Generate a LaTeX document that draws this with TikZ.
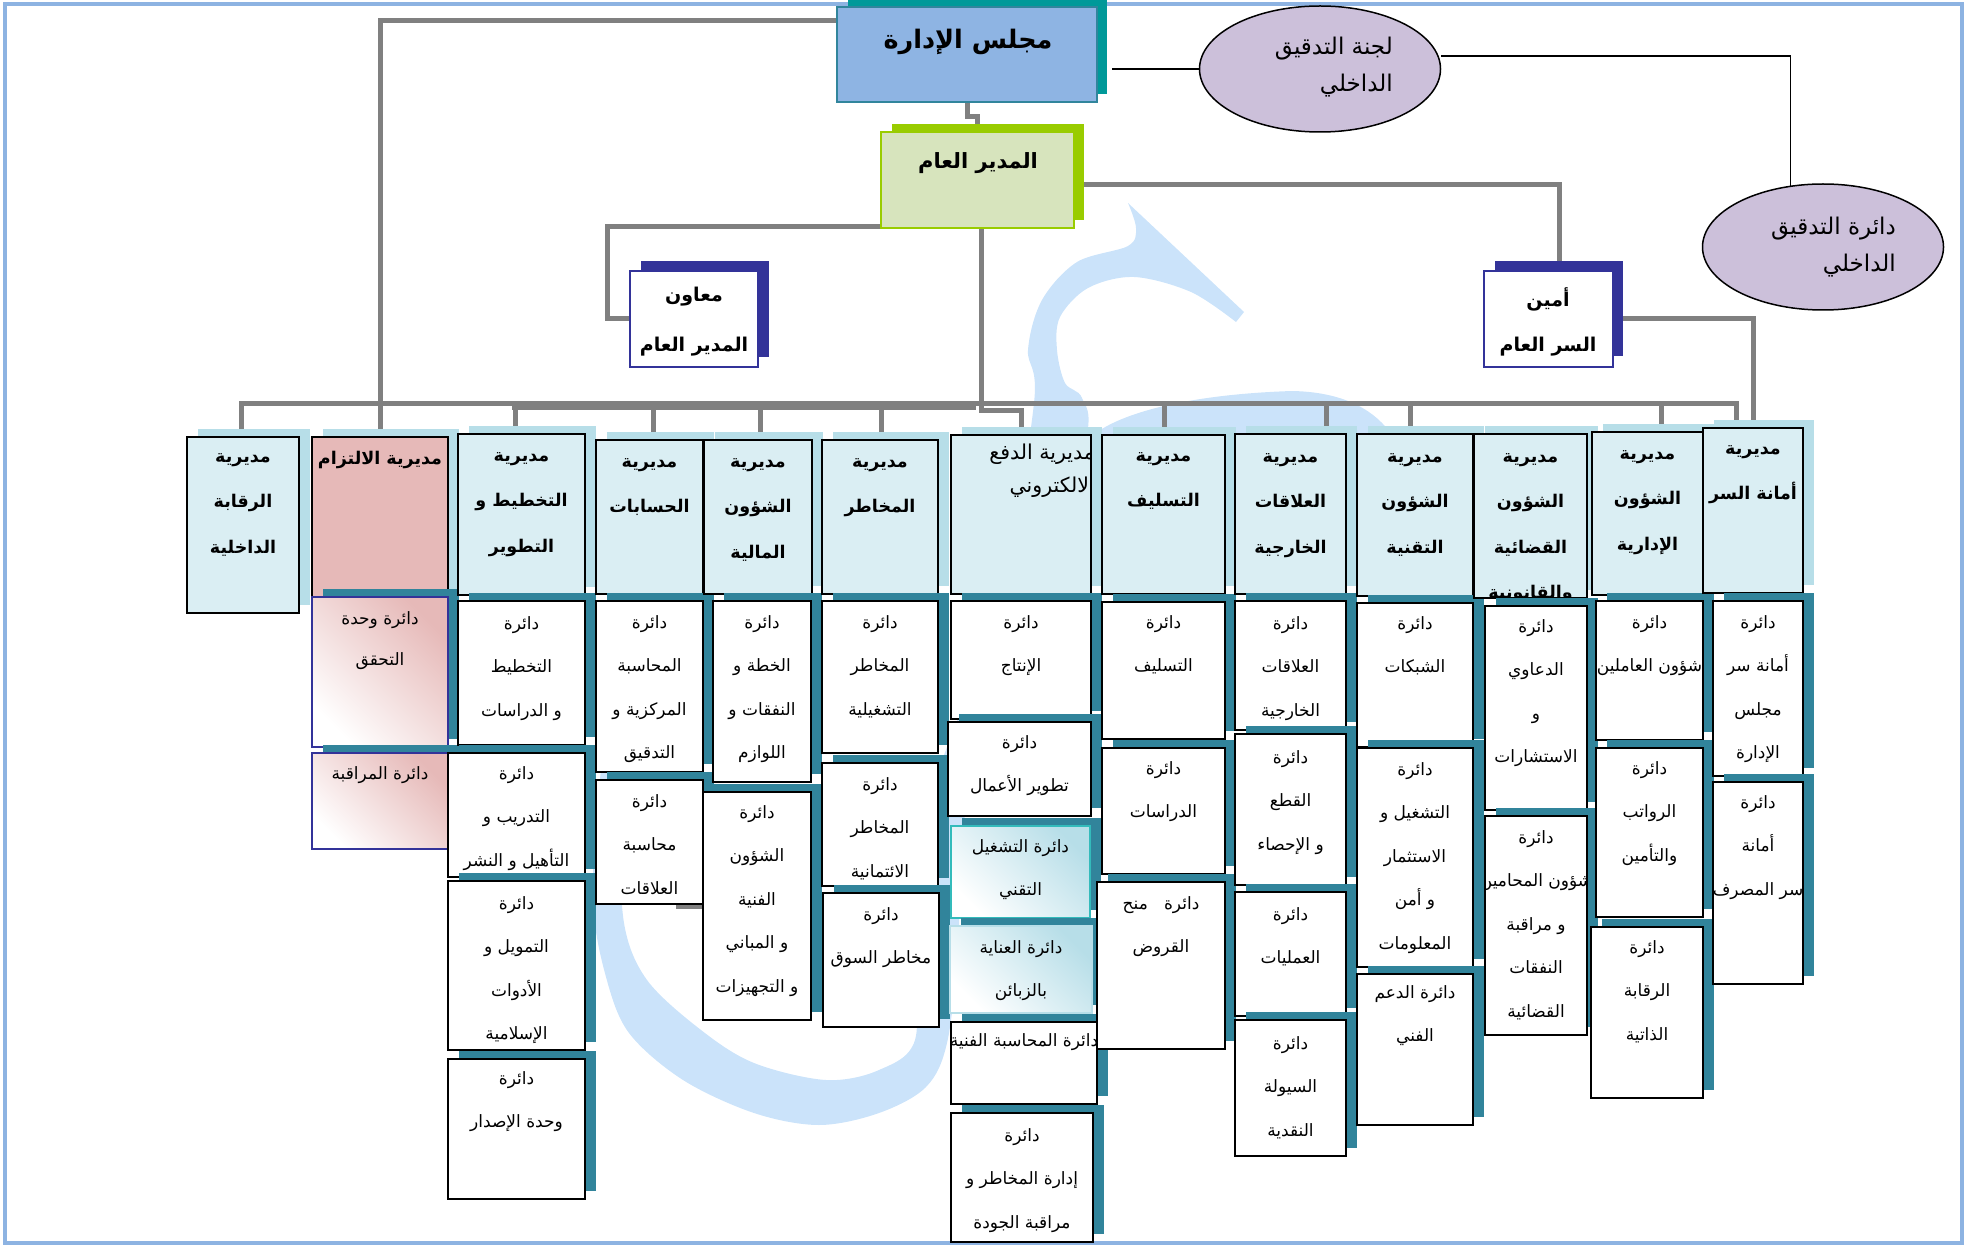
\documentclass[tikz,border=0pt]{standalone}
\usepackage{fontspec}
\usetikzlibrary{shapes.geometric}
\TeXXeTstate=1
\newfontfamily\arabicfont[Script=Arabic]{DejaVu Sans}
\newcommand\AR[1]{{\arabicfont #1}}
\definecolor{gline}{HTML}{808080}
\definecolor{framec}{HTML}{8DB3E2}
\definecolor{wmc}{HTML}{CBE3FA}
\definecolor{boardf}{HTML}{8EB4E3}
\definecolor{boards}{HTML}{009999}
\definecolor{boardb}{HTML}{31859C}
\definecolor{gmf}{HTML}{D7E4BD}
\definecolor{gms}{HTML}{99CC00}
\definecolor{navy}{HTML}{333399}
\definecolor{lav}{HTML}{CCC0DA}
\definecolor{hdf}{HTML}{DAEEF3}
\definecolor{hds}{HTML}{B7DEE8}
\definecolor{tealsh}{HTML}{31849B}
\definecolor{pinkf}{HTML}{E6B9B8}
\definecolor{cyanb}{HTML}{33BBBB}
\pgfdeclarelayer{wmlayer}
\pgfdeclarelayer{linelayer}
\pgfsetlayers{wmlayer,linelayer,main}
\tikzset{
  conn/.style={draw=gline, line width=5pt},
  blk/.style={draw=black, line width=1.6pt},
  plain/.style={inner sep=0pt, outer sep=0pt},
  shhd/.style={plain, fill=hds, draw=none},
  shsub/.style={plain, fill=tealsh, draw=none},
  hdbox/.style={plain, draw=black, line width=2pt, fill=hdf},
  pinkbox/.style={hdbox, fill=pinkf},
  subbox/.style={plain, draw=black, line width=2pt, fill=white},
  pinkgrad/.style={plain, draw=navy, line width=1.5pt, top color=pinkf, bottom color=white, shading angle=-45},
  tealgradA/.style={plain, draw=cyanb, line width=1.8pt, top color=hds, bottom color=white, shading angle=-45},
  tealgradB/.style={plain, draw=hds, line width=1.5pt, top color=hds, bottom color=white, shading angle=-45},
  hdtxt/.style={font=\fontsize{17.5}{20}\selectfont\bfseries, inner sep=0pt, text height=13pt, text depth=5pt},
  subtxt/.style={font=\fontsize{17}{20}\selectfont, inner sep=0pt, text height=13pt, text depth=5pt},
  ovtxt/.style={anchor=east, font=\fontsize{23}{26}\selectfont, inner sep=0pt, text height=16pt, text depth=6pt},
  toptxt/.style={font=\fontsize{19}{24}\selectfont\bfseries, inner sep=0pt, text height=15pt, text depth=6pt},
  curtxt/.style={subtxt},
}
% name, x1, y1, x2, y2, shadow style, box style, first line y, lines
\newcommand\ubox[9]{%
  \node[#6, anchor=north west, minimum width={(#4-#2)*1pt}, minimum height={(#5-#3)*1pt}] (#1-s) at ({#2+11},{#3-8}) {};
  \node[#7, anchor=north west, minimum width={(#4-#2)*1pt}, minimum height={(#5-#3)*1pt}] (#1) at (#2,#3) {};
  \begin{scope}
    \clip (#2,#3) rectangle (#4,#5);
    \foreach \tl [count=\i] in {#9} {
      \node[curtxt] (#1-\i) at ({(#2+#4)/2},{#8+(\i-1)*\lsp}) {\AR{\tl}};
    }
  \end{scope}}
\newcommand\hdr[7]{\def\lsp{45.5}\tikzset{curtxt/.style={hdtxt}}\ubox{#1}{#2}{#3}{#4}{#5}{shhd}{hdbox}{#6}{#7}}
\newcommand\sub[7]{\def\lsp{43.5}\tikzset{curtxt/.style={subtxt}}\ubox{#1}{#2}{#3}{#4}{#5}{shsub}{subbox}{#6}{#7}}
\newcommand\gsub[8]{\tikzset{curtxt/.style={subtxt}}\ubox{#1}{#2}{#3}{#4}{#5}{shsub}{#8}{#6}{#7}}

\begin{document}
\begin{tikzpicture}[x=1pt, y=-1pt]
\useasboundingbox (0,0) rectangle (1970,1246);

% ---------- top level ----------
\node[plain, fill=boards, minimum width=259pt, minimum height=94pt, anchor=north west] (board-s) at (848,0) {};
\node[plain, fill=boardf, draw=boardb, line width=1.5pt, minimum width=260pt, minimum height=95pt, anchor=north west] (board) at (837,7) {};
\node[font=\fontsize{25.5}{30}\selectfont\bfseries, inner sep=0pt] (board-t) at (968,42) {\AR{\beginR مجلس الإدارة\endR}};

\node[plain, fill=gms, minimum width=192pt, minimum height=96pt, anchor=north west] (gm-s) at (892,124) {};
\node[plain, fill=gmf, draw=gms, line width=1.5pt, minimum width=193pt, minimum height=96pt, anchor=north west] (gm) at (881,132) {};
\node[font=\fontsize{21}{26}\selectfont\bfseries, inner sep=0pt] (gm-t) at (978,163) {\AR{\beginR المدير العام\endR}};

\node[plain, fill=navy, minimum width=128pt, minimum height=96pt, anchor=north west] (asst-s) at (641,261) {};
\node[plain, fill=white, draw=navy, line width=2pt, minimum width=128pt, minimum height=96pt, anchor=north west] (asst) at (630,271) {};
\node[toptxt] (asst-1) at (694,297) {\AR{\beginR معاون\endR}};
\node[toptxt] (asst-2) at (694,347) {\AR{\beginR المدير العام\endR}};

\node[plain, fill=navy, minimum width=128pt, minimum height=95pt, anchor=north west] (sec-s) at (1495,261) {};
\node[plain, fill=white, draw=navy, line width=2pt, minimum width=129pt, minimum height=96pt, anchor=north west] (sec) at (1484,271) {};
\node[toptxt] (sec-1) at (1548,302) {\AR{\beginR أمين\endR}};
\node[toptxt] (sec-2) at (1548,347) {\AR{\beginR السر العام\endR}};

\node[ellipse, fill=lav, draw=black, line width=1.5pt, minimum width=241pt, minimum height=126pt, inner sep=0pt] (e1) at (1320,69) {};
\node[ovtxt] (e1-1) at (1393,50) {\AR{\beginR لجنة التدقيق\endR}};
\node[ovtxt] (e1-2) at (1393,87) {\AR{\beginR الداخلي\endR}};
\node[ellipse, fill=lav, draw=black, line width=1.5pt, minimum width=241pt, minimum height=126pt, inner sep=0pt] (e2) at (1823,247) {};
\node[ovtxt] (e2-1) at (1896,230) {\AR{\beginR دائرة التدقيق\endR}};
\node[ovtxt] (e2-2) at (1896,267) {\AR{\beginR الداخلي\endR}};

% ---------- columns ----------
\hdr{h1}{187}{437}{299}{613}{458}{\beginR مديرية\endR,\beginR الرقابة\endR,\beginR الداخلية\endR}

\def\lsp{45}\tikzset{curtxt/.style={hdtxt}}
\ubox{h2}{312}{437}{448}{597}{shhd}{pinkbox}{460}{\beginR مديرية الالتزام\endR}
\def\lsp{41}
\gsub{c2a}{312}{597}{448}{747}{620}{\beginR دائرة وحدة\endR,\beginR التحقق\endR}{pinkgrad}
\gsub{c2b}{312}{753}{448}{849}{775}{\beginR دائرة المراقبة\endR}{pinkgrad}

\hdr{h3}{458}{434}{585}{595}{457}{\beginR مديرية\endR,\beginR التخطيط و\endR,\beginR التطوير\endR}
\sub{c3a}{458}{601}{585}{745}{625}{\beginR دائرة\endR,\beginR التخطيط\endR,\beginR و الدراسات\endR}
\sub{c3b}{448}{753}{585}{877}{775}{\beginR دائرة\endR,\beginR التدريب و\endR,\beginR التأهيل و النشر\endR}
\sub{c3c}{448}{881}{585}{1050}{905}{\beginR دائرة\endR,\beginR التمويل و\endR,\beginR الأدوات\endR,\beginR الإسلامية\endR}
\sub{c3d}{448}{1059}{585}{1199}{1080}{\beginR دائرة\endR,\beginR وحدة الإصدار\endR}

\hdr{h4}{596}{440}{703}{594}{463}{\beginR مديرية\endR,\beginR الحسابات\endR}
\sub{c4a}{596}{601}{703}{772}{624}{\beginR دائرة\endR,\beginR المحاسبة\endR,\beginR المركزية و\endR,\beginR التدقيق\endR}
\sub{c4b}{596}{780}{703}{904}{803}{\beginR دائرة\endR,\beginR محاسبة\endR,\beginR العلاقات\endR}

\hdr{h5}{704}{440}{812}{594}{463}{\beginR مديرية\endR,\beginR الشؤون\endR,\beginR المالية\endR}
\sub{c5a}{713}{601}{811}{782}{624}{\beginR دائرة\endR,\beginR الخطة و\endR,\beginR النفقات و\endR,\beginR اللوازم\endR}
\sub{c5b}{703}{792}{811}{1020}{814}{\beginR دائرة\endR,\beginR الشؤون\endR,\beginR الفنية\endR,\beginR و المباني\endR,\beginR و التجهيزات\endR}

\hdr{h6}{822}{440}{938}{594}{463}{\beginR مديرية\endR,\beginR المخاطر\endR}
\sub{c6a}{822}{601}{938}{753}{624}{\beginR دائرة\endR,\beginR المخاطر\endR,\beginR التشغيلية\endR}
\sub{c6b}{822}{763}{938}{886}{786}{\beginR دائرة\endR,\beginR المخاطر\endR,\beginR الائتمانية\endR}
\sub{c6c}{823}{893}{939}{1027}{916}{\beginR دائرة\endR,\beginR مخاطر السوق\endR}

\node[shhd, minimum width=140pt, minimum height=159pt, anchor=north west] (h7-s) at (962,427) {};
\node[hdbox, minimum width=140pt, minimum height=159pt, anchor=north west] (h7) at (951,435) {};
\begin{scope}
  \clip (951,435) rectangle (1091,594);
  \node[anchor=east, font=\fontsize{20.5}{24}\selectfont, inner sep=0pt, text height=14pt, text depth=5pt] (h7-1) at (1095,455) {\AR{\beginR مديرية الدفع\endR}};
  \node[anchor=east, font=\fontsize{20.5}{24}\selectfont, inner sep=0pt, text height=14pt, text depth=5pt] (h7-2) at (1095,488) {\AR{\beginR الالكتروني\endR}};
\end{scope}
\sub{c7a}{951}{601}{1091}{719}{624}{\beginR دائرة\endR,\beginR الإنتاج\endR}
\sub{c7b}{948}{722}{1091}{816}{744}{\beginR دائرة\endR,\beginR تطوير الأعمال\endR}
\def\lsp{43.5}
\gsub{c7c}{951}{826}{1090}{918}{848}{\beginR دائرة التشغيل\endR,\beginR التقني\endR}{tealgradA}
\gsub{c7d}{950}{926}{1092}{1013}{949}{\beginR دائرة العناية\endR,\beginR بالزبائن\endR}{tealgradB}
\sub{c7e}{951}{1022}{1097}{1104}{1042}{\beginR دائرة المحاسبة الفنية\endR}
\sub{c7f}{951}{1113}{1093}{1242}{1137}{\beginR دائرة\endR,\beginR إدارة المخاطر و\endR,\beginR مراقبة الجودة\endR}

\hdr{h8}{1102}{435}{1225}{594}{457}{\beginR مديرية\endR,\beginR التسليف\endR}
\sub{c8a}{1102}{602}{1225}{739}{624}{\beginR دائرة\endR,\beginR التسليف\endR}
\sub{c8b}{1102}{748}{1225}{874}{770}{\beginR دائرة\endR,\beginR الدراسات\endR}
\sub{c8c}{1097}{882}{1225}{1049}{905}{\beginR دائرة\ \ \ منح\endR,\beginR القروض\endR}

\hdr{h9}{1235}{434}{1346}{594}{458}{\beginR مديرية\endR,\beginR العلاقات\endR,\beginR الخارجية\endR}
\sub{c9a}{1235}{601}{1346}{730}{625}{\beginR دائرة\endR,\beginR العلاقات\endR,\beginR الخارجية\endR}
\sub{c9b}{1235}{734}{1346}{885}{759}{\beginR دائرة\endR,\beginR القطع\endR,\beginR و الإحصاء\endR}
\sub{c9c}{1235}{892}{1346}{1016}{916}{\beginR دائرة\endR,\beginR العمليات\endR}
\sub{c9d}{1235}{1020}{1346}{1156}{1045}{\beginR دائرة\endR,\beginR السيولة\endR,\beginR النقدية\endR}

\hdr{h10}{1357}{434}{1473}{596}{458}{\beginR مديرية\endR,\beginR الشؤون\endR,\beginR التقنية\endR}
\sub{c10a}{1357}{603}{1473}{747}{625}{\beginR دائرة\endR,\beginR الشبكات\endR}
\sub{c10b}{1357}{748}{1473}{967}{771}{\beginR دائرة\endR,\beginR التشغيل و\endR,\beginR الاستثمار\endR,\beginR و أمن\endR,\beginR المعلومات\endR}
\sub{c10c}{1357}{974}{1473}{1125}{994}{\beginR دائرة الدعم\endR,\beginR الفني\endR}

\hdr{h11}{1474}{434}{1587}{598}{458}{\beginR مديرية\endR,\beginR الشؤون\endR,\beginR القضائية\endR,\beginR والقانونية\endR}
\sub{c11a}{1485}{606}{1587}{810}{628}{\beginR دائرة\endR,\beginR الدعاوي\endR,\beginR و\endR,\beginR الاستشارات\endR}
\sub{c11b}{1485}{816}{1587}{1035}{839}{\beginR دائرة\endR,\beginR شؤون المحامين\endR,\beginR و مراقبة\endR,\beginR النفقات\endR,\beginR القضائية\endR}

\hdr{h12}{1592}{432}{1703}{595}{455}{\beginR مديرية\endR,\beginR الشؤون\endR,\beginR الإدارية\endR}
\sub{c12a}{1596}{601}{1703}{740}{624}{\beginR دائرة\endR,\beginR شؤون العاملين\endR}
\sub{c12b}{1596}{748}{1703}{917}{770}{\beginR دائرة\endR,\beginR الرواتب\endR,\beginR والتأمين\endR}
\sub{c12c}{1591}{927}{1703}{1098}{949}{\beginR دائرة\endR,\beginR الرقابة\endR,\beginR الذاتية\endR}

\hdr{h13}{1703}{428}{1803}{593}{450}{\beginR مديرية\endR,\beginR أمانة السر\endR}
\sub{c13a}{1713}{601}{1803}{776}{624}{\beginR دائرة\endR,\beginR أمانة سر\endR,\beginR مجلس\endR,\beginR الإدارة\endR}
\sub{c13b}{1713}{782}{1803}{984}{804}{\beginR دائرة\endR,\beginR أمانة\endR,\beginR سر المصرف\endR}

% ---------- connectors ----------
\begin{pgfonlayer}{linelayer}
  \draw[conn] (board.south) -- ++(0,15) -| (gm.north);
  \draw[conn] ([yshift=33.5pt]board.west) -| (h2.north);
  \draw[conn] ([xshift=58.5pt,yshift=1pt]gm.south) -| ([xshift=-23pt]asst.west) -- (asst.west);
  \draw[conn] ([yshift=-5pt]gm.east) -| (sec-s.north);
  \draw[conn] (sec.east) -| (h13.north);
  \draw[conn] ([xshift=3.5pt]gm.south) -- ++(0,182) -| (h7.north);
  \coordinate (bL) at (241,403);
  \coordinate (bR) at (1736,403);
  \draw[conn] (bL |- h1.north) -- (bL) -- (bR) -- (bR |- h13.north);
  \draw[conn] (512,407) -- (976,407);
  \foreach \x/\h in {515/h3,653/h4,760/h5,881/h6,1164/h8,1326/h9,1410/h10,1661/h12}
    \draw[conn] (\x,403) -- (\x,403 |- \h.north);
  \draw[conn] ([xshift=-27pt,yshift=-2.5pt]c4b.south east) -- ([yshift=-2.5pt]c4b.south east);
  \draw[blk] (e1.west) -- ++(-87,0);
  \draw[blk] ([yshift=13pt]e1.east) -| (e2.118);
\end{pgfonlayer}

% ---------- frame and watermark ----------
\begin{pgfonlayer}{wmlayer}
  \draw[framec, line width=4.5pt] (5,4) rectangle (1962,1243);
  \fill[wmc] plot[smooth, tension=0.55] coordinates {
    (1128,203) (1136,228) (1128,246) (1077,262) (1042,300) (1028,350) (1034,403)
    (1000,600) (930,800) (915,950) (915,1040) (879,1070) (826,1080) (754,1063)
    (701,1030) (647,980) (624,923) (622,830) (638,745) (612,705) (598,800)
    (593,903) (606,977) (629,1033) (683,1080) (754,1113) (819,1125) (879,1113)
    (926,1087) (947,1043) (958,950) (968,800) (1040,600) (1086,440) (1082,398)
    (1065,383) (1057,350) (1060,317) (1088,288) (1134,277) (1191,292) (1236,322)}
    -- (1244,312) -- cycle;
  \fill[wmc] (1080,450) .. controls (1095,420) and (1170,395) .. (1292,391)
    .. controls (1350,392) and (1385,415) .. (1400,450) -- cycle;
\end{pgfonlayer}
\end{tikzpicture}
\end{document}
